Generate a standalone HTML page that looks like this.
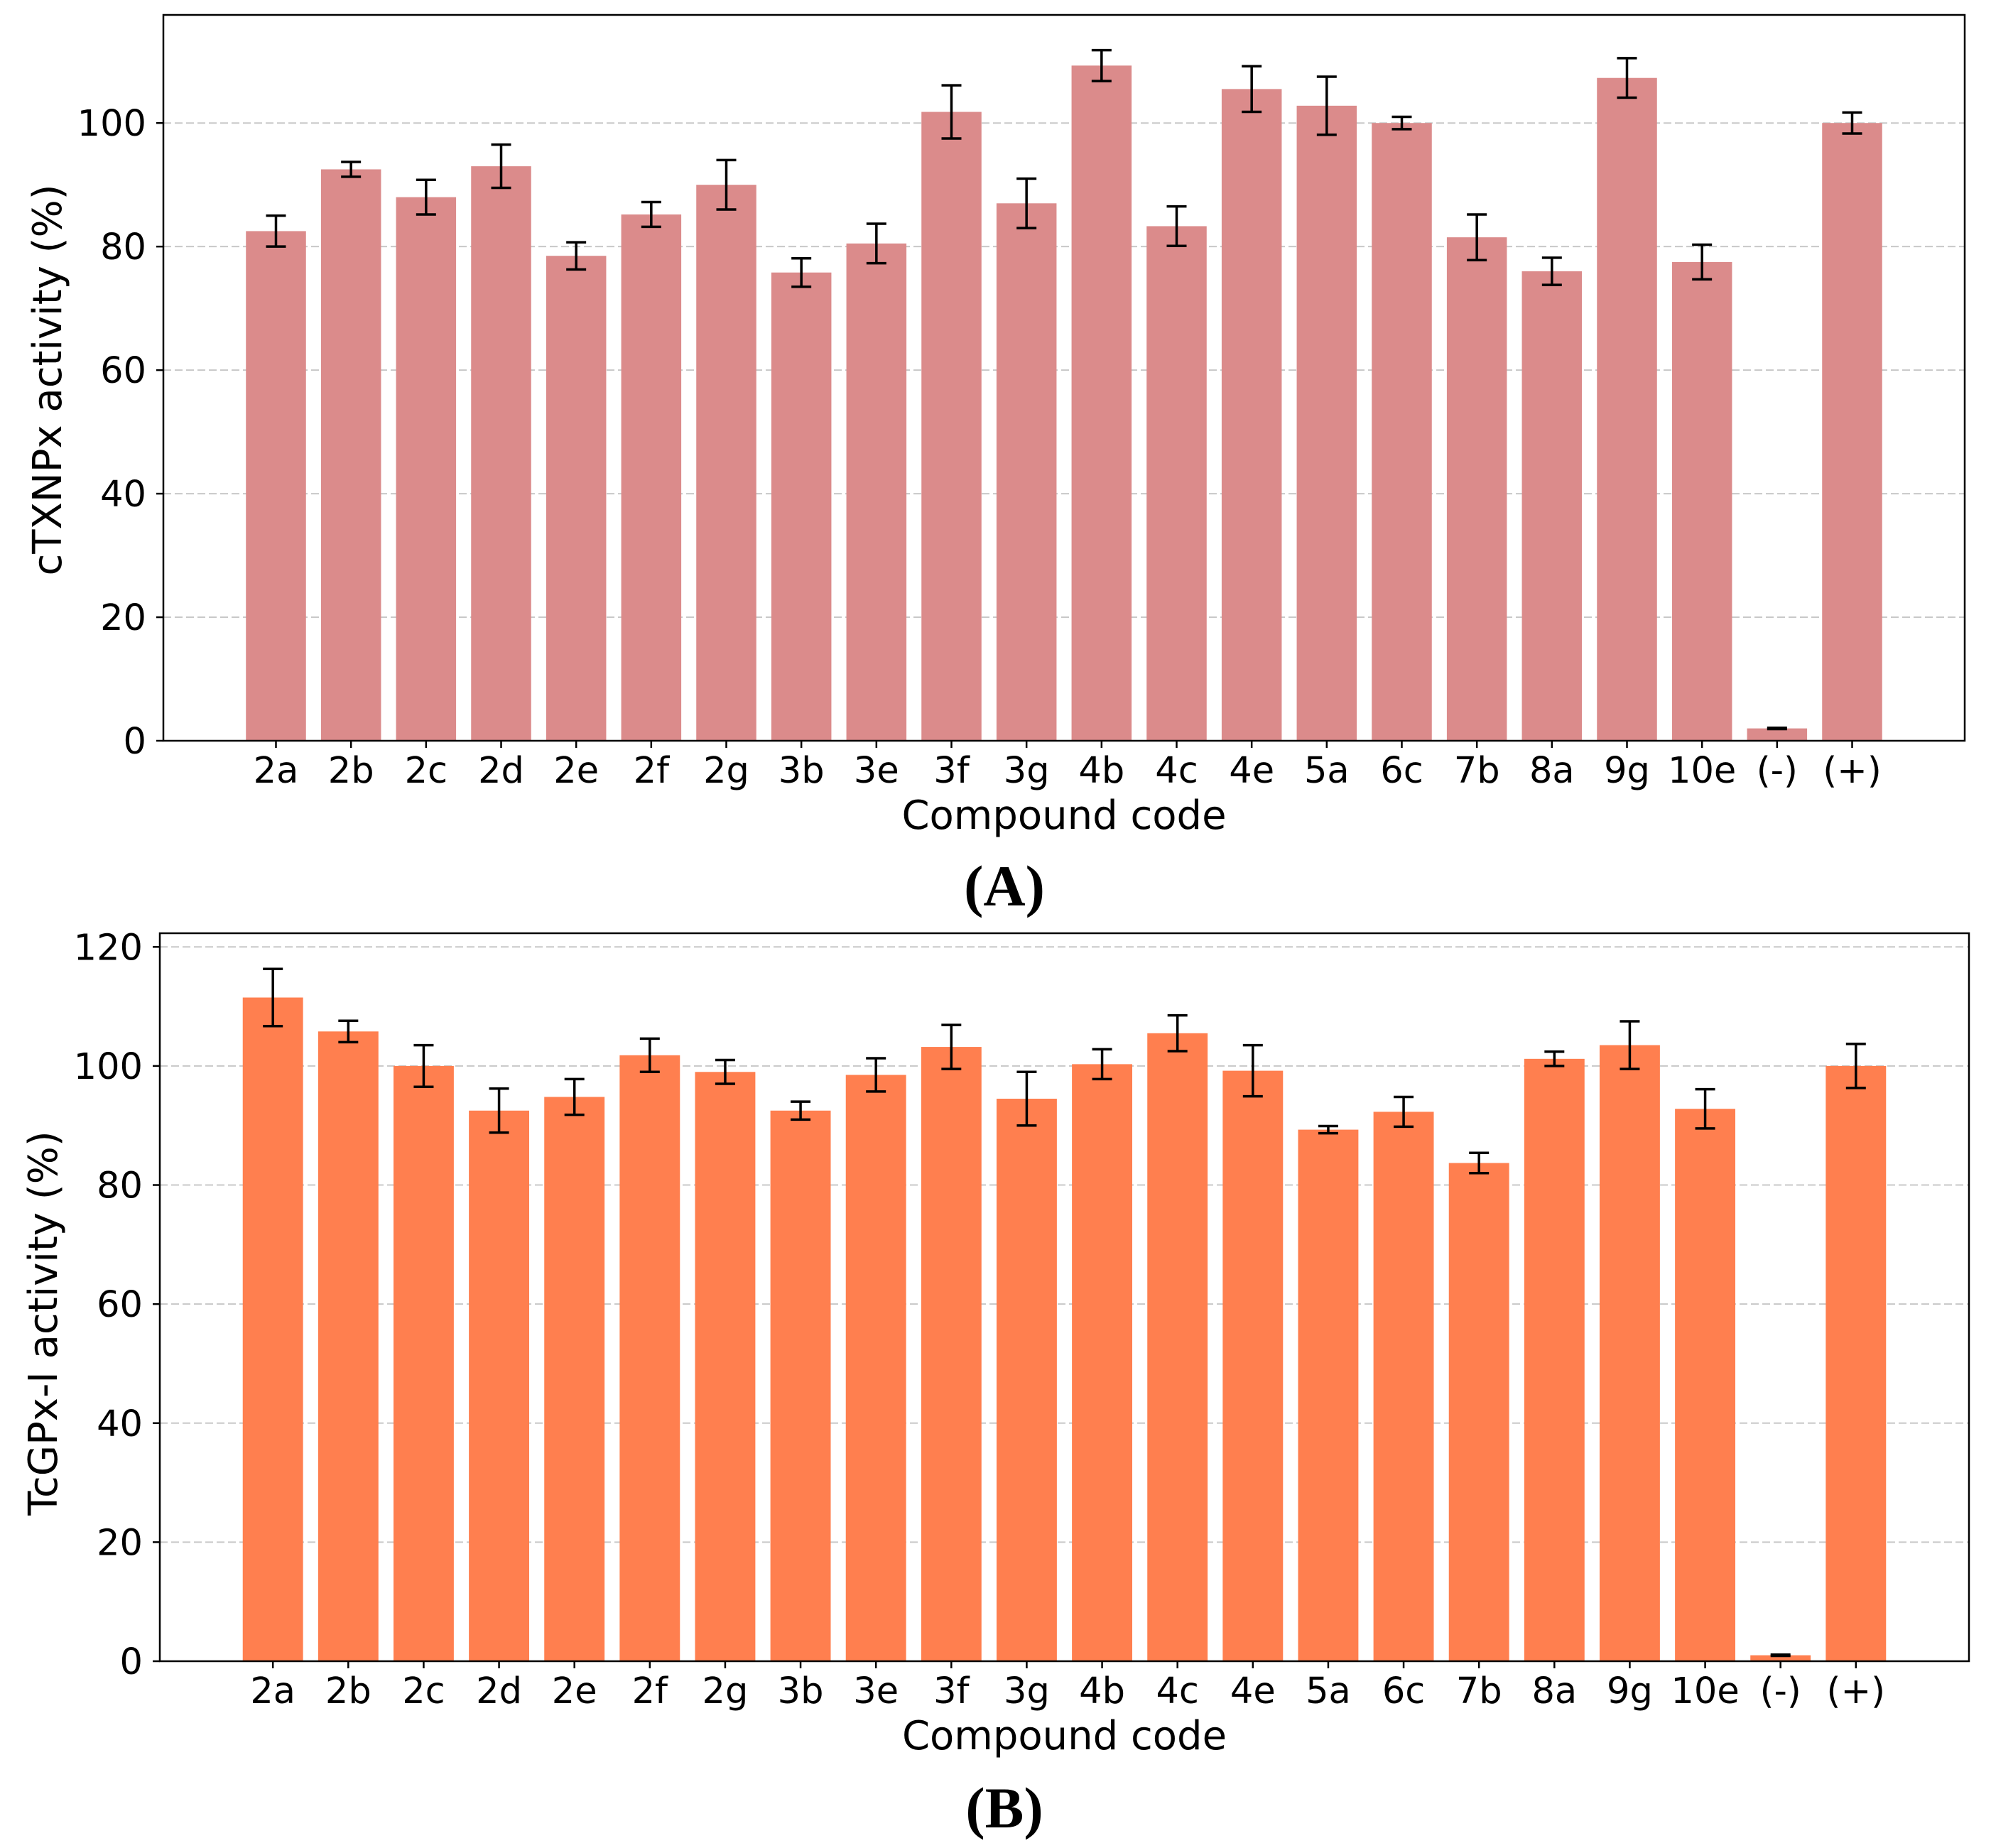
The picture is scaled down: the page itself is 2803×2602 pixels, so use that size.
<!DOCTYPE html>
<html><head><meta charset="utf-8">
<style>
html,body{margin:0;padding:0;background:#fff;}
svg{display:block;font-family:"DejaVu Sans","Liberation Sans",sans-serif;}
</style></head>
<body>
<svg id="chart" width="2803" height="2602" viewBox="0 0 2803 2602" xmlns="http://www.w3.org/2000/svg"></svg>
<script>
const categories = ["2a","2b","2c","2d","2e","2f","2g","3b","3e","3f","3g","4b","4c","4e","5a","6c","7b","8a","9g","10e","(-)","(+)"];
const valuesA = [82.5,92.5,88,93,78.5,85.2,90,75.8,80.5,101.8,87,109.3,83.3,105.5,102.8,100,81.5,76,107.3,77.5,2,100];
const errorsA = [2.5,1.2,2.8,3.5,2.2,2,4,2.3,3.2,4.3,4,2.5,3.2,3.7,4.7,1,3.7,2.2,3.2,2.8,0.1,1.7];
const valuesB = [111.5,105.8,100,92.5,94.8,101.8,99,92.5,98.5,103.2,94.5,100.3,105.5,99.2,89.3,92.3,83.7,101.2,103.5,92.8,1,100];
const errorsB = [4.8,1.8,3.5,3.7,3,2.8,2,1.5,2.8,3.7,4.5,2.5,3,4.3,0.6,2.5,1.7,1.2,4,3.3,0.1,3.7];
const ticksA = [0,20,40,60,80,100];
const ticksB = [0,20,40,60,80,100,120];

const NS="http://www.w3.org/2000/svg";
const svg=document.getElementById('chart');
function mk(tag,attrs,parent){const e=document.createElementNS(NS,tag);for(const k in attrs)e.setAttribute(k,attrs[k]);(parent||svg).appendChild(e);return e;}

function panel(p){
  const g=mk('g',{});
  
  
  const n=categories.length;
  const step=(p.right-p.left)/(n+2);
  const xPos=i=>p.left+step*(i+1.5);
  const yPos=v=>p.zeroY-(v/p.ymax)*(p.zeroY-p.top);
  p.ticks.forEach(t=>{
    if(t===0) return;
    const l=mk('line',{x1:p.left,x2:p.right,y1:yPos(t),y2:yPos(t),stroke:'#c8c8c8','stroke-width':2,'stroke-dasharray':'11,5'},g);
    
    
  });
  const bw=step*0.8;
  categories.forEach((c,i)=>{
    const v=p.values[i], e=p.errors[i], x=xPos(i);
    const r=mk('rect',{x:x-bw/2,y:yPos(v),width:bw,height:p.zeroY-yPos(v),fill:p.color},g);
    
    
    const eg=mk('g',{stroke:'#000','stroke-width':3.5},g);
    
    
    mk('line',{x1:x,x2:x,y1:yPos(v+e),y2:yPos(v-e)},eg);
    mk('line',{x1:x-14,x2:x+14,y1:yPos(v+e),y2:yPos(v+e)},eg);
    mk('line',{x1:x-14,x2:x+14,y1:yPos(v-e),y2:yPos(v-e)},eg);
    mk('line',{x1:x,x2:x,y1:p.zeroY,y2:p.zeroY+10,stroke:'#000','stroke-width':2.5},g);
    const t=mk('text',{x:x,y:p.zeroY+59,'text-anchor':'middle','font-size':51,fill:'#000'},g);
    t.textContent=c;
    
    
  });
  p.ticks.forEach(tv=>{
    const y=yPos(tv);
    mk('line',{x1:p.left-10,x2:p.left,y1:y,y2:y,stroke:'#000','stroke-width':2.5},g);
    const t=mk('text',{x:p.left-24,y:y+18,'text-anchor':'end','font-size':51,fill:'#000'},g);
    t.textContent=tv;
    
    
  });
  const fr=mk('rect',{x:p.left,y:p.top,width:p.right-p.left,height:p.zeroY-p.top,fill:'none',stroke:'#000','stroke-width':2.5},g);
  
  
  const xl=mk('text',{x:(p.left+p.right)/2,y:p.zeroY+124,'text-anchor':'middle','font-size':56,fill:'#000'},g);
  xl.textContent='Compound code';
  
  
  const yl=mk('text',{x:0,y:0,'text-anchor':'middle','font-size':56,fill:'#000',transform:`translate(${p.ylabX},${p.ylabY}) rotate(-90)`},g);
  yl.textContent=p.ylabel;
  
  
  const pl=mk('text',{x:p.labelX,y:p.labelY,'text-anchor':'middle','font-size':82,'font-weight':'bold',fill:'#000','font-family':'"Liberation Serif",serif'},g);
  pl.textContent=p.label;
  
  
}

panel({name:'panel-a',left:230,right:2766,top:21,zeroY:1043,ymax:117.5,values:valuesA,errors:errorsA,ticks:ticksA,color:'#db8b8b',ylabel:'cTXNPx activity (%)',ylabX:86,ylabY:535,label:'(A)',labelX:1414,labelY:1275});
panel({name:'panel-b',left:225,right:2772,top:1314,zeroY:2339,ymax:122.3,values:valuesB,errors:errorsB,ticks:ticksB,color:'#ff7f4f',ylabel:'TcGPx-I activity (%)',ylabX:80,ylabY:1863,label:'(B)',labelX:1414,labelY:2573});
</script>
</body></html>
